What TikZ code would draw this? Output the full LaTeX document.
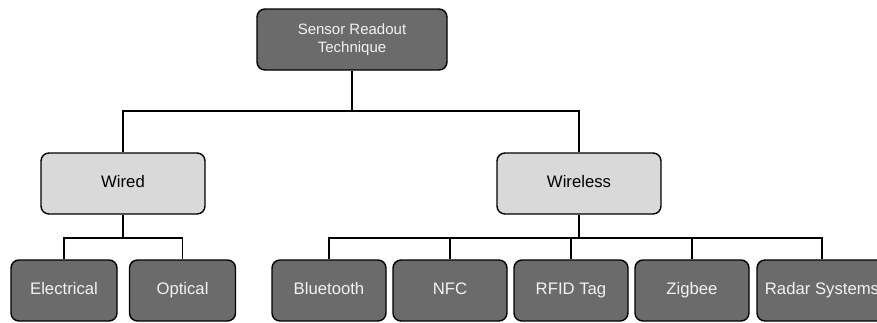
\documentclass[tikz,border=0pt]{standalone}
\usepackage{fontspec}
\setmainfont{Liberation Sans}
\begin{document}
\begin{tikzpicture}[x=1pt,y=-1pt,
  box/.style={draw=black, line width=1.4pt, rounded corners=8pt, align=center, inner sep=0pt},
  dark/.style={box, fill=darkfill, text=lighttext, font=\fontsize{16.7}{20}\selectfont, minimum height=61pt, text height=12pt, text depth=3.5pt},
  light/.style={box, fill=lightfill, text=black, font=\fontsize{16.7}{20}\selectfont, minimum width=164pt, minimum height=61pt, text height=12pt, text depth=3.5pt},
  conn/.style={draw=black, line width=1.4pt}]
\definecolor{darkfill}{HTML}{6B6B6B}
\definecolor{lightfill}{HTML}{D9D9D9}
\definecolor{lighttext}{HTML}{F2F2F2}
\useasboundingbox (0,0) rectangle (877,322);
\node[box, fill=darkfill, text=lighttext, minimum width=190pt, minimum height=61pt, font=\fontsize{15}{17.4}\selectfont] (root) at (352,39.5) {Sensor Readout\\Technique};
\node[light] (wired) at (123,183.5) {Wired};
\node[light] (wireless) at (579,183.5) {Wireless};
\node[dark, minimum width=106pt] (electrical) at (64,290.5) {Electrical};
\node[dark, minimum width=106pt] (optical) at (182.5,290.5) {Optical};
\node[dark, minimum width=114pt] (bluetooth) at (329,290.5) {Bluetooth};
\node[dark, minimum width=114pt] (nfc) at (450,290.5) {NFC};
\node[dark, minimum width=114pt] (rfid) at (571,290.5) {RFID Tag};
\node[dark, minimum width=114pt] (zigbee) at (692,290.5) {Zigbee};
\node[dark, minimum width=130pt] (radar) at (822,290.5) {Radar Systems};
\coordinate (busA) at (352,111);
\coordinate (busB) at (123,238);
\coordinate (busC) at (579,238);
\draw[conn] (root.south) -- (busA) -| (wired.north);
\draw[conn] (busA) -| (wireless.north);
\draw[conn] (wired.south) -- (busB) -| (electrical.north);
\draw[conn] (busB) -| (optical.north);
\draw[conn] (wireless.south) -- (busC) -| (bluetooth.north);
\draw[conn] (busC) -| (nfc.north);
\draw[conn] (busC) -| (rfid.north);
\draw[conn] (busC) -| (zigbee.north);
\draw[conn] (busC) -| (radar.north);
\end{tikzpicture}
\end{document}
